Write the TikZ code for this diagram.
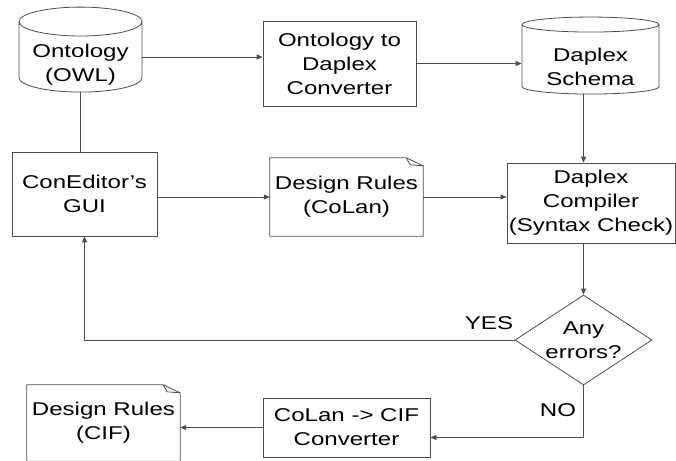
\documentclass[tikz,border=0pt]{standalone}
\usepackage{fontspec}
\setmainfont[FakeStretch=1.3]{Liberation Sans}
\usetikzlibrary{shapes.geometric,arrows.meta}

\begin{document}
\begin{tikzpicture}[x=1pt,y=1pt,
  every node/.append style={font=\fontsize{18.5}{24}\selectfont, align=center},
  line/.style={draw=black!70, line width=0.8pt},
  arr/.style={line, -{Triangle[length=6pt,width=5pt]}},
  box/.style={rectangle, line},
  dbase/.style={cylinder, shape border rotate=90, line},
  note/.style={rectangle},
  decision/.style={diamond, line, aspect=1.52}]
\tikzstyle{every node}+=[inner sep=0pt]
\useasboundingbox (0,0) rectangle (676,-460);
% top row
\node [dbase, minimum width=123, minimum height=83, aspect=0.3] (onto) at (80.5,-57) {\phantom{Ontology}\\\phantom{(OWL)}};
\node (ontotext) at ([yshift=-8]onto.center) {Ontology\\(OWL)};
\node [box, minimum width=153, minimum height=85] (conv) at (339.5,-63.5) {Ontology to\\Daplex\\Converter};
\node [dbase, minimum width=137, minimum height=77, aspect=0.17] (schema) at (590.5,-59.5) {\phantom{Daplex}\\\phantom{Schema}};
\node (schematext) at ([yshift=-7]schema.center) {Daplex\\Schema};
% middle row
\node [box, minimum width=145, minimum height=84] (gui) at (84.5,-194) {ConEditor's\\GUI};
\node [note, minimum width=153, minimum height=78] (rules) at (346.5,-197) {Design Rules\\(CoLan)};
\node [box, minimum width=168, minimum height=80] (cmp) at (591,-203) {Daplex\\Compiler\\(Syntax Check)};
\node [decision, minimum width=137, minimum height=90] (dia) at (583.5,-340) {Any\\errors?};
% bottom row
\node [box, minimum width=167, minimum height=59] (tocif) at (346.5,-427.5) {CoLan -> CIF\\Converter};
\node [note, minimum width=153, minimum height=76] (cifrules) at (103.5,-423) {Design Rules\\(CIF)};
\foreach \n in {rules,cifrules} {
  \draw [line] (\n.south west) -- (\n.north west) -- ([xshift=-17]\n.north east) -- ([yshift=-8]\n.north east) -- (\n.south east) -- cycle;
  \draw [line] ([xshift=-17]\n.north east) -- ([xshift=-13,yshift=-7]\n.north east) -- ([yshift=-8]\n.north east);
}
% connectors
\draw [arr] (onto.east) -- (onto.east -| conv.west);
\draw [arr] (conv.east) -- (conv.east -| schema.west);
\draw [line] (onto.south) -- (onto.south |- gui.north);
\draw [arr] (gui.east |- rules) -- (rules.west);
\draw [arr] (rules.east) -- (rules.east -| cmp.west);
\draw [arr] (schema.south -| dia.north) -- (cmp.north -| dia.north);
\draw [arr] (cmp.south -| dia.north) -- (dia.north);
\draw [arr] (dia.west) -| (gui.south);
\draw [arr] (dia.south) |- ([yshift=-10]tocif.east);
\draw [arr] (tocif.west) -- (tocif.west -| cifrules.east);
\node (yes) at (489,-323) {YES};
\node (no) at (558,-410) {NO};
\end{tikzpicture}
\end{document}
